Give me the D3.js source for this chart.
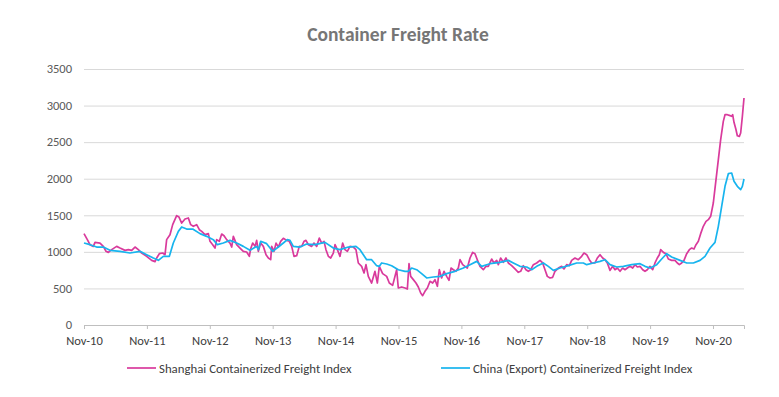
<!DOCTYPE html>
<html>
<head>
<meta charset="utf-8">
<script src="https://cdn.jsdelivr.net/npm/d3@7"></script>
<style>
  body { margin: 0; background: #fff; }
  #chart text { font-family: Carlito, Calibri, Lato, "Open Sans", sans-serif; }
</style>
</head>
<body>
<div id="chart"></div>
<script>
// values; x is a decimal year (Nov 2010 = 2010.833)
const scfiYears = [
  2010.833, 2010.886, 2010.928, 2010.981, 2011.008, 2011.087, 2011.140, 2011.183, 2011.220, 2011.273,
  2011.352, 2011.405, 2011.485, 2011.538, 2011.591, 2011.644, 2011.697, 2011.750, 2011.829, 2011.909,
  2011.962, 2011.988, 2012.031, 2012.084, 2012.121, 2012.147, 2012.200, 2012.243, 2012.306, 2012.343,
  2012.386, 2012.439, 2012.492, 2012.529, 2012.571, 2012.624, 2012.667, 2012.704, 2012.757, 2012.810,
  2012.836, 2012.879, 2012.916, 2012.942, 2012.985, 2013.022, 2013.059, 2013.101, 2013.154, 2013.181,
  2013.207, 2013.260, 2013.313, 2013.366, 2013.419, 2013.462, 2013.483, 2013.515, 2013.552, 2013.578,
  2013.605, 2013.642, 2013.684, 2013.727, 2013.764, 2013.801, 2013.817, 2013.854, 2013.886, 2013.923,
  2013.960, 2014.002, 2014.055, 2014.097, 2014.135, 2014.172, 2014.214, 2014.256, 2014.294, 2014.331,
  2014.362, 2014.400, 2014.453, 2014.490, 2014.532, 2014.574, 2014.612, 2014.649, 2014.680, 2014.718,
  2014.755, 2014.797, 2014.824, 2014.861, 2014.903, 2014.945, 2014.982, 2015.020, 2015.062, 2015.115,
  2015.157, 2015.194, 2015.247, 2015.285, 2015.316, 2015.353, 2015.406, 2015.459, 2015.497, 2015.528,
  2015.581, 2015.645, 2015.687, 2015.740, 2015.804, 2015.830, 2015.884, 2015.937, 2015.974, 2016.000,
  2016.027, 2016.069, 2016.111, 2016.148, 2016.186, 2016.217, 2016.254, 2016.292, 2016.334, 2016.376,
  2016.413, 2016.451, 2016.482, 2016.519, 2016.557, 2016.599, 2016.636, 2016.668, 2016.705, 2016.747,
  2016.784, 2016.811, 2016.853, 2016.890, 2016.927, 2016.970, 2017.012, 2017.049, 2017.086, 2017.129,
  2017.182, 2017.224, 2017.261, 2017.314, 2017.351, 2017.394, 2017.420, 2017.457, 2017.500, 2017.542,
  2017.579, 2017.632, 2017.685, 2017.738, 2017.775, 2017.818, 2017.860, 2017.897, 2017.934, 2017.977,
  2018.030, 2018.083, 2018.125, 2018.162, 2018.199, 2018.242, 2018.284, 2018.321, 2018.374, 2018.427,
  2018.464, 2018.507, 2018.549, 2018.586, 2018.639, 2018.692, 2018.745, 2018.782, 2018.825, 2018.867,
  2018.904, 2018.957, 2018.994, 2019.037, 2019.079, 2019.116, 2019.153, 2019.196, 2019.238, 2019.275,
  2019.312, 2019.355, 2019.397, 2019.434, 2019.471, 2019.514, 2019.556, 2019.593, 2019.630, 2019.673,
  2019.715, 2019.752, 2019.789, 2019.832, 2019.874, 2019.911, 2019.948, 2019.980, 2020.001, 2020.044,
  2020.086, 2020.123, 2020.176, 2020.229, 2020.266, 2020.298, 2020.335, 2020.372, 2020.415, 2020.457,
  2020.494, 2020.531, 2020.563, 2020.600, 2020.637, 2020.679, 2020.722, 2020.759, 2020.796, 2020.838,
  2020.881, 2020.918, 2020.955, 2020.997, 2021.024, 2021.061, 2021.093, 2021.130, 2021.146, 2021.167,
  2021.199, 2021.220, 2021.252, 2021.273, 2021.300, 2021.326
];
const scfiValues = [
  1249, 1167, 1098, 1075, 1130, 1120, 1075, 1007, 993, 1030,
  1075, 1052, 1020, 1030, 1020, 1066, 1030, 984, 939, 884,
  866, 916, 975, 984, 961, 1167, 1235, 1372, 1495, 1476,
  1394, 1449, 1463, 1372, 1349, 1372, 1303, 1280, 1235, 1249,
  1144, 1098, 1052, 1167, 1144, 1244, 1221, 1167, 1120, 1066,
  1212, 1098, 1052, 1007, 998, 939, 1043, 1120, 1075, 1157,
  1007, 1120, 1075, 961, 916, 893, 1075, 1007, 1120, 1066,
  1144, 1185, 1157, 1144, 1075, 939, 948, 1075, 1075, 1144,
  1157, 1098, 1075, 1120, 1075, 1189, 1120, 1144, 1030, 939,
  916, 984, 1098, 1030, 939, 1120, 1030, 1007, 1075, 1066,
  1030, 848, 802, 711, 825, 665, 574, 734, 574, 802,
  702, 665, 574, 542, 756, 506, 520, 506, 492, 838,
  665, 620, 574, 520, 437, 401, 460, 506, 597, 574,
  620, 529, 756, 643, 734, 665, 611, 779, 756, 734,
  779, 893, 825, 802, 779, 916, 993, 975, 893, 802,
  756, 802, 802, 902, 848, 884, 825, 916, 857, 916,
  848, 811, 766, 720, 734, 811, 756, 734, 756, 825,
  848, 884, 848, 756, 665, 643, 652, 734, 779, 802,
  766, 825, 811, 884, 916, 893, 939, 984, 961, 893,
  848, 848, 916, 961, 916, 893, 848, 747, 802, 756,
  779, 734, 779, 756, 779, 802, 779, 825, 793, 802,
  756, 734, 756, 802, 756, 848, 916, 961, 1030, 993,
  975, 902, 884, 884, 848, 825, 848, 884, 975, 1030,
  1052, 1039, 1098, 1144, 1249, 1349, 1417, 1440, 1486, 1668,
  1987, 2260, 2534, 2784, 2875, 2875, 2866, 2853, 2875, 2771,
  2670, 2588, 2579, 2625, 2853, 3103
];

const ccfiYears = [
  2010.833, 2010.928, 2011.034, 2011.140, 2011.246, 2011.405, 2011.564, 2011.723, 2011.829, 2011.935,
  2012.015, 2012.094, 2012.190, 2012.253, 2012.333, 2012.386, 2012.465, 2012.561, 2012.677, 2012.783,
  2012.889, 2012.953, 2013.048, 2013.154, 2013.260, 2013.366, 2013.472, 2013.578, 2013.605, 2013.642,
  2013.737, 2013.832, 2013.923, 2014.002, 2014.066, 2014.108, 2014.161, 2014.267, 2014.373, 2014.505,
  2014.664, 2014.797, 2014.903, 2015.035, 2015.157, 2015.221, 2015.274, 2015.327, 2015.406, 2015.486,
  2015.528, 2015.565, 2015.645, 2015.724, 2015.830, 2015.937, 2015.989, 2016.042, 2016.122, 2016.201,
  2016.281, 2016.387, 2016.493, 2016.599, 2016.731, 2016.864, 2016.970, 2017.076, 2017.155, 2017.288,
  2017.447, 2017.579, 2017.659, 2017.765, 2017.871, 2017.950, 2018.030, 2018.136, 2018.215, 2018.295,
  2018.401, 2018.533, 2018.666, 2018.772, 2018.825, 2018.931, 2019.037, 2019.116, 2019.196, 2019.302,
  2019.408, 2019.540, 2019.673, 2019.752, 2019.832, 2019.938, 2020.017, 2020.097, 2020.176, 2020.309,
  2020.415, 2020.521, 2020.627, 2020.706, 2020.786, 2020.865, 2020.918, 2020.971, 2021.024, 2021.077,
  2021.130, 2021.167, 2021.220, 2021.273, 2021.300, 2021.326
];
const ccfiValues = [
  1121, 1098, 1066, 1066, 1021, 1007, 984, 1007, 961, 916,
  884, 939, 939, 1121, 1280, 1340, 1312, 1312, 1249, 1212,
  1167, 1098, 1121, 1157, 1121, 1075, 1021, 1075, 1030, 1144,
  1112, 1007, 1066, 1121, 1167, 1157, 1075, 1066, 1107, 1098,
  1130, 1052, 1030, 1066, 1075, 1030, 961, 893, 893, 811,
  802, 848, 834, 811, 756, 734, 734, 779, 756, 702,
  643, 656, 665, 702, 734, 779, 825, 870, 802, 838,
  857, 884, 848, 802, 793, 756, 802, 848, 802, 747,
  779, 811, 848, 848, 825, 848, 870, 893, 825, 793,
  802, 825, 838, 802, 779, 825, 902, 975, 930, 884,
  848, 848, 884, 939, 1052, 1130, 1349, 1622, 1896, 2069,
  2078, 1964, 1896, 1850, 1896, 1996
];

const seriesNames = ['Shanghai Containerized Freight Index', 'China (Export) Containerized Freight Index'];
const seriesColors = ['#D93A9C', '#17B4EE'];
const tickYears = [2010.833, 2011.833, 2012.833, 2013.833, 2014.833, 2015.833, 2016.833, 2017.833, 2018.833, 2019.833, 2020.833];
const tickLabels = ['Nov-10', 'Nov-11', 'Nov-12', 'Nov-13', 'Nov-14', 'Nov-15', 'Nov-16', 'Nov-17', 'Nov-18', 'Nov-19', 'Nov-20'];
const yTicks = [0, 500, 1000, 1500, 2000, 2500, 3000, 3500];

const totalW = 779, totalH = 397;
const margin = { top: 69, right: 35, bottom: 72, left: 84 };
const width = totalW - margin.left - margin.right,
  height = totalH - margin.top - margin.bottom;

const svg = d3.select('#chart')
  .append('svg')
  .attr('width', totalW)
  .attr('height', totalH);

svg.append('text')
  .attr('x', 398)
  .attr('y', 41)
  .attr('text-anchor', 'middle')
  .attr('font-size', '19.5px')
  .attr('font-weight', 'bold')
  .attr('fill', '#767676')
  .text('Container Freight Rate');

const g = svg.append('g')
  .attr('transform', `translate(${margin.left},${margin.top})`);

const x = d3.scaleLinear()
  .domain([2010.833, 2021.326])
  .range([0, width]);

const y = d3.scaleLinear()
  .domain([0, 3500])
  .range([height, 0]);

// gridlines + y labels
const yAxis = g.append('g')
  .call(d3.axisLeft(y).tickValues(yTicks).tickSize(-width).tickPadding(12).tickFormat(d3.format('d')));
yAxis.select('.domain').remove();
yAxis.selectAll('line').attr('stroke', '#D9D9D9').attr('stroke-width', 1);
yAxis.selectAll('text').attr('font-size', '12.5px').attr('fill', '#595959').attr('dy', '0.3em');

// x axis
const xAxis = g.append('g')
  .attr('transform', `translate(0,${height})`)
  .call(d3.axisBottom(x).tickValues(tickYears).tickSize(4).tickPadding(7)
    .tickFormat((d, i) => tickLabels[i]));
xAxis.select('.domain').attr('stroke', '#BFBFBF');
xAxis.selectAll('line').attr('stroke', '#BFBFBF');
xAxis.selectAll('text').attr('font-size', '12.5px').attr('fill', '#404040');

const line = d3.line()
  .x(d => x(d[0]))
  .y(d => y(d[1]));

const series = [
  d3.zip(scfiYears, scfiValues),
  d3.zip(ccfiYears, ccfiValues)
];

series.forEach((s, i) => {
  g.append('path')
    .datum(s)
    .attr('fill', 'none')
    .attr('stroke', seriesColors[i])
    .attr('stroke-width', 1.7)
    .attr('stroke-linejoin', 'round')
    .attr('d', line);
});

// legend
const legendX = [127, 441];
const legend = svg.append('g');
seriesNames.forEach((name, i) => {
  legend.append('line')
    .attr('x1', legendX[i]).attr('x2', legendX[i] + 29)
    .attr('y1', 368).attr('y2', 368)
    .attr('stroke', seriesColors[i])
    .attr('stroke-width', 1.7);
  legend.append('text')
    .attr('x', legendX[i] + 32)
    .attr('y', 372.5)
    .attr('font-size', '12.8px')
    .attr('fill', '#404040')
    .text(name);
});
</script>
</body>
</html>
